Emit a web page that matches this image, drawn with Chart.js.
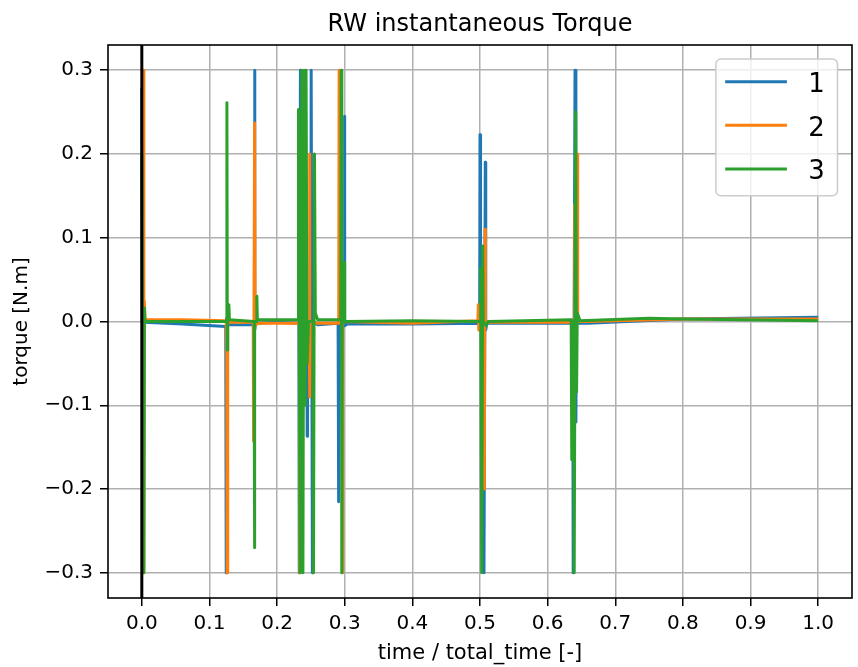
<!DOCTYPE html>
<html>
<head>
<meta charset="utf-8">
<script src="https://cdn.jsdelivr.net/npm/chart.js@4/dist/chart.umd.min.js"></script>
<style>
  html, body { margin: 0; padding: 0; background: #ffffff; }
  canvas { display: block; }
</style>
</head>
<body>
<canvas id="c" width="858" height="667"></canvas>
<script>
// Reaction-wheel torque samples: [normalised time, torque in N.m]
const seriesNames = ['1', '2', '3'];
const xTicks = [0, 0.1, 0.2, 0.3, 0.4, 0.5, 0.6, 0.7, 0.8, 0.9, 1.0];
const yTicks = [-0.3, -0.2, -0.1, 0, 0.1, 0.2, 0.3];

const torqueRW1 = [
  [0, 0.279], [0.0008, 0.0], [0.003, -0.001], [0.06, -0.003],
  [0.1241, -0.006], [0.1248, -0.3], [0.1255, 0.004], [0.1264, -0.004],
  [0.1662, -0.004], [0.1667, 0.3], [0.1673, -0.01], [0.168, -0.002], [0.2, -0.001],
  [0.2322, -0.002], [0.2328, -0.3], [0.2345, 0.3], [0.2352, 0.0], [0.244, 0.0], [0.2445, -0.137], [0.245, 0.0],
  [0.2498, 0.0], [0.2504, 0.3], [0.2522, -0.3], [0.2529, 0.0], [0.26, -0.004],
  [0.2902, -0.002], [0.2907, -0.215], [0.2913, 0.0], [0.2991, 0.0], [0.2996, 0.245], [0.3002, -0.005], [0.304, -0.003],
  [0.4, -0.003],
  [0.4995, -0.002], [0.5, 0.223], [0.5008, -0.005], [0.5052, -0.005], [0.5059, -0.3], [0.5078, 0.19], [0.5085, -0.01], [0.51, -0.002],
  [0.57, -0.002],
  [0.6372, -0.002], [0.6378, -0.3], [0.6405, 0.3], [0.6418, -0.12], [0.6425, -0.002], [0.66, -0.002],
  [0.8, 0.003], [1.0, 0.005]
];

const torqueRW2 = [
  [0, 0.0], [0.0016, 0.0], [0.0022, 0.3], [0.003, -0.3], [0.0038, 0.024], [0.0048, 0.002], [0.06, 0.002],
  [0.1248, 0.001], [0.1255, -0.03], [0.1262, -0.3], [0.127, 0.0], [0.13, -0.001],
  [0.1647, -0.001], [0.1652, -0.143], [0.1668, 0.237], [0.1675, -0.005], [0.172, -0.002],
  [0.233, -0.002], [0.2335, -0.3], [0.2341, 0.0], [0.2389, 0.0], [0.2395, 0.088], [0.2401, -0.03], [0.2408, 0.0],
  [0.2473, 0.0], [0.2479, 0.2], [0.2486, -0.09], [0.2492, 0.0], [0.26, -0.002],
  [0.2911, -0.002], [0.2917, 0.3], [0.2923, 0.0], [0.296, 0.0], [0.2966, -0.3], [0.2972, 0.02], [0.2978, 0.0],
  [0.4, -0.002],
  [0.4969, 0.001], [0.4975, 0.02], [0.4982, -0.01], [0.5058, -0.01], [0.5064, -0.2], [0.5074, 0.11], [0.508, 0.0], [0.512, -0.001],
  [0.6395, -0.001], [0.64, 0.139], [0.6406, -0.055], [0.6412, 0.0], [0.6432, 0.0], [0.6438, 0.2], [0.6444, 0.0], [0.66, 0.0],
  [0.8, 0.003], [1.0, 0.003]
];

const torqueRW3 = [
  [0, 0.201], [0.0008, 0.0], [0.0022, 0.0], [0.003, -0.3], [0.0038, 0.016], [0.0048, 0.0],
  [0.1252, 0.0], [0.1258, 0.261], [0.1264, -0.034], [0.127, 0.0], [0.1287, 0.02], [0.1295, 0.002],
  [0.1659, 0.0], [0.1665, -0.27], [0.1671, 0.0], [0.1695, 0.0], [0.1701, 0.03], [0.1708, 0.002],
  [0.231, 0.002], [0.2316, 0.253], [0.2341, -0.3], [0.2366, 0.3], [0.2382, -0.3], [0.2398, 0.3],
  [0.2415, -0.1], [0.2428, 0.3], [0.2445, -0.05], [0.2465, 0.0], [0.2532, 0.0], [0.2538, -0.3], [0.2553, 0.2],
  [0.2565, 0.01], [0.26, 0.002],
  [0.2941, 0.002], [0.2947, 0.3], [0.2957, -0.3], [0.2963, 0.0], [0.299, 0.0], [0.2996, 0.07], [0.3002, 0.0],
  [0.4, 0.001],
  [0.5004, 0.0], [0.501, 0.063], [0.5025, -0.3], [0.504, 0.09], [0.5048, 0.0], [0.509, -0.005], [0.512, 0.0],
  [0.6348, 0.002], [0.6354, -0.165], [0.636, 0.0], [0.6387, 0.0], [0.6393, -0.3], [0.6414, 0.25], [0.6428, -0.084],
  [0.6438, 0.01], [0.648, 0.001],
  [0.75, 0.004], [0.8, 0.003], [1.0, 0.001]
];

const FONT = '"DejaVu Sans", sans-serif';
const colors = ['#1f77b4', '#ff7f0e', '#2ca02c'];
const allSeries = [torqueRW1, torqueRW2, torqueRW3];

const fmt = v => (v < -1e-9 ? '\u2212' : '') + Math.abs(v).toFixed(1);

const datasets = allSeries.map((pts, i) => ({
  label: seriesNames[i],
  data: pts.map(p => ({ x: p[0], y: p[1] })),
  borderColor: colors[i],
  backgroundColor: colors[i],
  borderWidth: 3,
  borderJoinStyle: 'round',
  borderCapStyle: 'butt',
  pointRadius: 0,
  fill: false,
  tension: 0,
  order: allSeries.length - i
}));

// axes frame, zero-time marker, title and legend box
const decorations = {
  id: 'decorations',
  afterDatasetsDraw(chart) {
    const { ctx, chartArea: a, scales: { x } } = chart;
    ctx.save();
    const x0 = x.getPixelForValue(0);
    ctx.strokeStyle = '#000000';
    ctx.lineWidth = 3;
    ctx.beginPath();
    ctx.moveTo(x0, a.top);
    ctx.lineTo(x0, a.bottom);
    ctx.stroke();
    ctx.lineWidth = 1.6;
    ctx.strokeRect(a.left, a.top, a.right - a.left, a.bottom - a.top);
    ctx.restore();
  },
  afterDraw(chart) {
    const { ctx, chartArea: a } = chart;
    ctx.save();
    // title
    ctx.fillStyle = '#000000';
    ctx.font = '24px ' + FONT;
    ctx.textAlign = 'center';
    ctx.textBaseline = 'alphabetic';
    ctx.fillText('RW instantaneous Torque', (a.left + a.right) / 2, 31);

    // legend
    const w = 121.6, h = 136.7;
    const bx = a.right - 14.5 - w, by = a.top + 14;
    const r = 5;
    ctx.beginPath();
    ctx.moveTo(bx + r, by);
    ctx.lineTo(bx + w - r, by);
    ctx.arcTo(bx + w, by, bx + w, by + r, r);
    ctx.lineTo(bx + w, by + h - r);
    ctx.arcTo(bx + w, by + h, bx + w - r, by + h, r);
    ctx.lineTo(bx + r, by + h);
    ctx.arcTo(bx, by + h, bx, by + h - r, r);
    ctx.lineTo(bx, by + r);
    ctx.arcTo(bx, by, bx + r, by, r);
    ctx.closePath();
    ctx.fillStyle = 'rgba(255,255,255,0.8)';
    ctx.fill();
    ctx.strokeStyle = '#cccccc';
    ctx.lineWidth = 1.5;
    ctx.stroke();

    ctx.font = '26px ' + FONT;
    ctx.textAlign = 'left';
    chart.data.datasets.forEach((ds, i) => {
      const ly = by + 22.7 + i * 43.6;
      ctx.strokeStyle = ds.borderColor;
      ctx.lineWidth = 3;
      ctx.beginPath();
      ctx.moveTo(bx + 9.3, ly);
      ctx.lineTo(bx + 71, ly);
      ctx.stroke();
      ctx.fillStyle = '#000000';
      ctx.fillText(ds.label, bx + 92.3, ly + 10.2);
    });
    ctx.restore();
  }
};

new Chart(document.getElementById('c'), {
  type: 'line',
  data: { datasets },
  options: {
    responsive: false,
    animation: false,
    events: [],
    devicePixelRatio: 1,
    layout: { padding: { top: 45, right: 6, left: 0, bottom: 0 } },
    plugins: {
      legend: { display: false },
      title: { display: false },
      tooltip: { enabled: false }
    },
    scales: {
      x: {
        type: 'linear',
        min: -0.05,
        max: 1.05,
        afterBuildTicks: s => { s.ticks = xTicks.map(v => ({ value: v })); },
        afterFit: s => { s.height = 69; },
        ticks: {
          callback: v => fmt(v),
          font: { family: FONT, size: 20 },
          color: '#000000',
          padding: 6,
          maxRotation: 0,
          autoSkip: false
        },
        grid: { color: '#b0b0b0', lineWidth: 1.5, tickColor: '#000000', tickLength: 8, tickWidth: 1.5 },
        border: { display: false },
        title: {
          display: true,
          text: 'time / total_time [-]',
          font: { family: FONT, size: 21 },
          color: '#000000',
          padding: { top: 0, bottom: 1 }
        }
      },
      y: {
        type: 'linear',
        min: -0.33,
        max: 0.33,
        afterBuildTicks: s => { s.ticks = yTicks.map(v => ({ value: v })); },
        afterFit: s => { s.width = 108; },
        ticks: {
          callback: v => fmt(v),
          font: { family: FONT, size: 20 },
          color: '#000000',
          padding: 7,
          autoSkip: false
        },
        grid: { color: '#b0b0b0', lineWidth: 1.5, tickColor: '#000000', tickLength: 8, tickWidth: 1.5 },
        border: { display: false },
        title: {
          display: true,
          text: 'torque [N.m]',
          font: { family: FONT, size: 20 },
          color: '#000000',
          padding: { top: 9.5, bottom: 0 }
        }
      }
    }
  },
  plugins: [decorations]
});
</script>
</body>
</html>
